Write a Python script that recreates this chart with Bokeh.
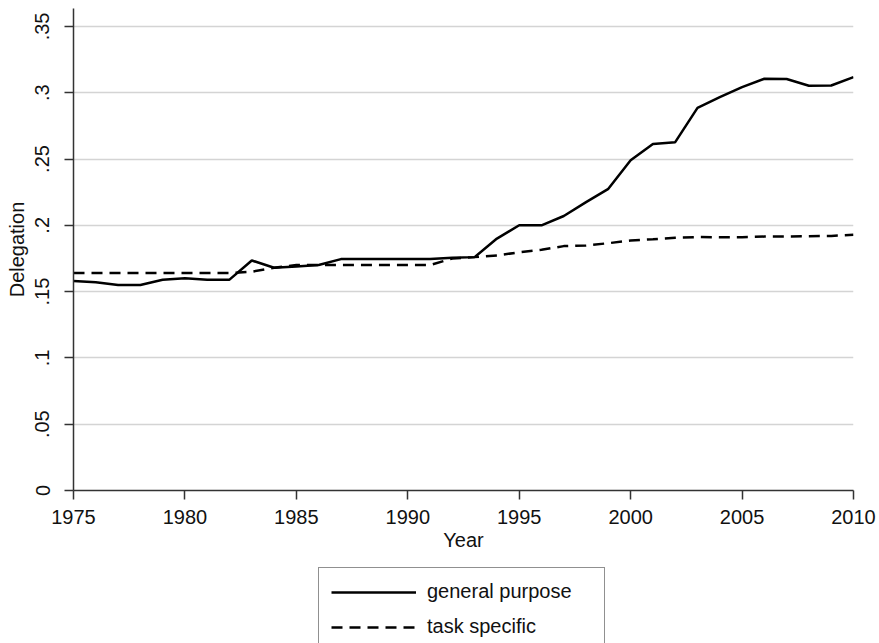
from bokeh.plotting import figure
from bokeh.models import Range1d, FixedTicker, Legend, LegendItem
from bokeh.layouts import column
from bokeh.embed import file_html
from bokeh.resources import INLINE

years = list(range(1975, 2011))
general_purpose = [0.158, 0.157, 0.155, 0.155, 0.159, 0.160, 0.159, 0.159, 0.1735, 0.168,
                   0.169, 0.170, 0.1745, 0.1745, 0.1745, 0.1745, 0.1745, 0.1755, 0.176, 0.190,
                   0.200, 0.200, 0.207, 0.2175, 0.2275, 0.249, 0.2614, 0.2627, 0.2886, 0.2966,
                   0.3042, 0.3105, 0.3103, 0.3052, 0.3054, 0.3117]
task_specific = [0.164, 0.164, 0.164, 0.164, 0.164, 0.164, 0.164, 0.164, 0.165, 0.168,
                 0.170, 0.170, 0.170, 0.170, 0.170, 0.170, 0.170, 0.175, 0.176, 0.1772,
                 0.1797, 0.1815, 0.1843, 0.1848, 0.1865, 0.1885, 0.1895, 0.1906, 0.1911, 0.191,
                 0.191, 0.1915, 0.1915, 0.1918, 0.192, 0.1928]
x_ticks = [1975, 1980, 1985, 1990, 1995, 2000, 2005, 2010]
y_ticks = [0, 0.05, 0.1, 0.15, 0.2, 0.25, 0.3, 0.35]
y_tick_labels = ["0", ".05", ".1", ".15", ".2", ".25", ".3", ".35"]
series_names = ["general purpose", "task specific"]

FONT = "Liberation Sans"
FS = "20px"
DASH = "11 7"

p = figure(width=879, height=560, output_backend="svg", toolbar_location=None,
           x_range=Range1d(1975, 2010), y_range=Range1d(0, 0.3635),
           min_border_left=73, min_border_right=26, min_border_top=8, min_border_bottom=70)
p.outline_line_color = None
p.background_fill_color = "white"
p.border_fill_color = "white"

p.xgrid.grid_line_color = None
p.ygrid.grid_line_color = "#d4d4d4"
p.ygrid.grid_line_width = 1.5

for ax in (p.xaxis[0], p.yaxis[0]):
    ax.axis_line_color = "#333333"
    ax.axis_line_width = 1.5
    ax.major_tick_line_color = "#333333"
    ax.major_tick_line_width = 1.5
    ax.major_tick_out = 9
    ax.major_tick_in = 0
    ax.minor_tick_line_color = None
    ax.major_label_text_font = FONT
    ax.major_label_text_font_size = FS
    ax.major_label_text_color = "#111111"
    ax.axis_label_text_font = FONT
    ax.axis_label_text_font_size = FS
    ax.axis_label_text_font_style = "normal"
    ax.axis_label_text_color = "#111111"

p.xaxis.ticker = FixedTicker(ticks=x_ticks)
p.xaxis.axis_label = "Year"
p.xaxis.major_label_standoff = 10
p.xaxis.axis_label_standoff = 2

p.yaxis.ticker = FixedTicker(ticks=y_ticks)
p.yaxis.major_label_overrides = {t: l for t, l in zip(y_ticks, y_tick_labels)}
p.yaxis.major_label_orientation = "vertical"
p.yaxis.axis_label = "Delegation"
p.yaxis.major_label_standoff = 15
p.yaxis.axis_label_standoff = 5

p.line(years, general_purpose, line_color="black", line_width=2.5)
p.line(years, task_specific, line_color="black", line_width=2.5, line_dash=DASH)

# legend panel below the chart (its lines lie outside its own visible range,
# only their legend glyphs are shown)
lg = figure(width=879, height=83, output_backend="svg", toolbar_location=None,
            x_range=Range1d(0, 1), y_range=Range1d(0, 1),
            x_axis_type=None, y_axis_type=None,
            min_border_left=0, min_border_right=0, min_border_top=0, min_border_bottom=0)
lg.outline_line_color = None
lg.xgrid.grid_line_color = None
lg.ygrid.grid_line_color = None
k1 = lg.line(years, general_purpose, line_color="black", line_width=2.5)
k2 = lg.line(years, task_specific, line_color="black", line_width=2.5, line_dash=DASH)

legend = Legend(items=[LegendItem(label=series_names[0], renderers=[k1]),
                       LegendItem(label=series_names[1], renderers=[k2])],
                location=(245, -8), orientation="vertical")
legend.border_line_color = "#222222"
legend.border_line_width = 1.5
legend.background_fill_alpha = 1.0
legend.label_text_font = FONT
legend.label_text_font_size = FS
legend.label_text_color = "#111111"
legend.glyph_width = 85
legend.glyph_height = 22
legend.label_height = 22
legend.label_width = 165
legend.label_standoff = 11
legend.spacing = 12
legend.padding = 12
legend.margin = 0
lg.add_layout(legend, "center")

layout = column(p, lg, spacing=0)
open("out.html", "w").write(file_html(layout, INLINE))
